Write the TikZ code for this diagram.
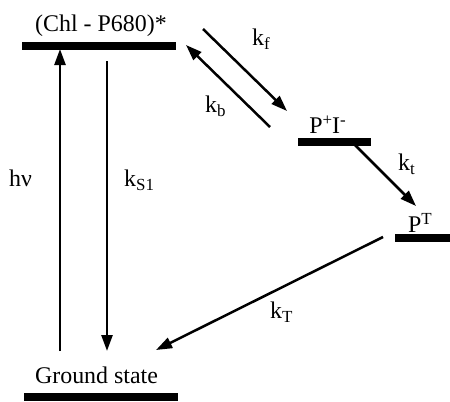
\documentclass[tikz,border=0pt]{standalone}
\usepackage{fontspec}
\setmainfont{Liberation Serif}
\usetikzlibrary{arrows.meta}
\newcommand{\lowsub}[1]{\raisebox{-4.5bp}{\fontsize{17}{17}\selectfont #1}}
\newcommand{\highsup}[1]{\raisebox{8bp}{\fontsize{17}{17}\selectfont #1}}
\begin{document}
\begin{tikzpicture}[x=1bp,y=-1bp,
  lvl/.style={fill=black,inner sep=0pt,minimum height=8bp},
  lbl/.style={inner sep=0pt,font=\fontsize{24}{27}\selectfont},
  arr/.style={line width=2.5bp,-{Triangle[length=16bp,width=11bp]}}]
\useasboundingbox (0,0) rectangle (450,401);
% levels
\node[lvl,minimum width=154bp] (top) at (99,45.5) {};
\node[lvl,minimum width=73bp] (pi) at (334.5,142) {};
\node[lvl,minimum width=56bp] (pt) at (423,237.5) {};
\node[lvl,minimum width=154bp] (gs) at (101,397) {};
% level labels
\node[lbl,anchor=base] (toplbl) at (101,31) {(Chl - P680)*};
\node[lbl,anchor=base] (pilbl) at (327.5,133) {P\highsup{+}I\highsup{-}};
\node[lbl,anchor=base] (ptlbl) at (420,232) {P\highsup{T}};
\node[lbl,anchor=base] (gslbl) at (96.5,383) {Ground state};
% rate labels
\node[lbl,anchor=base west] (kf) at (252,45) {k\lowsub{f}};
\node[lbl,anchor=base west] (kb) at (205,112) {k\lowsub{b}};
\node[lbl,anchor=base west] (kt) at (398,170) {k\lowsub{t}};
\node[lbl,anchor=base west] (kT) at (270,318) {k\lowsub{T}};
\node[lbl,anchor=base west] (hv) at (9,186) {hν};
\node[lbl,anchor=base west] (ks) at (124,186) {k\lowsub{S1}};
% arrow ends
\coordinate (hvs) at (60,351);
\coordinate (hve) at (60,49);
\coordinate (kss) at (107,61);
\coordinate (kse) at (107,351);
\coordinate (kfs) at (203,29);
\coordinate (kfe) at (287,111);
\coordinate (kbs) at (270,127);
\coordinate (kbe) at (186,45);
\coordinate (kts) at (355,145);
\coordinate (kte) at (416,206);
\coordinate (kTs) at (383,237);
\coordinate (kTe) at (156,350);
% arrows
\draw[arr] (hvs) -- (hve);
\draw[arr] (kss) -- (kse);
\draw[arr] (kfs) -- (kfe);
\draw[arr] (kbs) -- (kbe);
\draw[arr] (kts) -- (kte);
\draw[arr] (kTs) -- (kTe);
\end{tikzpicture}
\end{document}
